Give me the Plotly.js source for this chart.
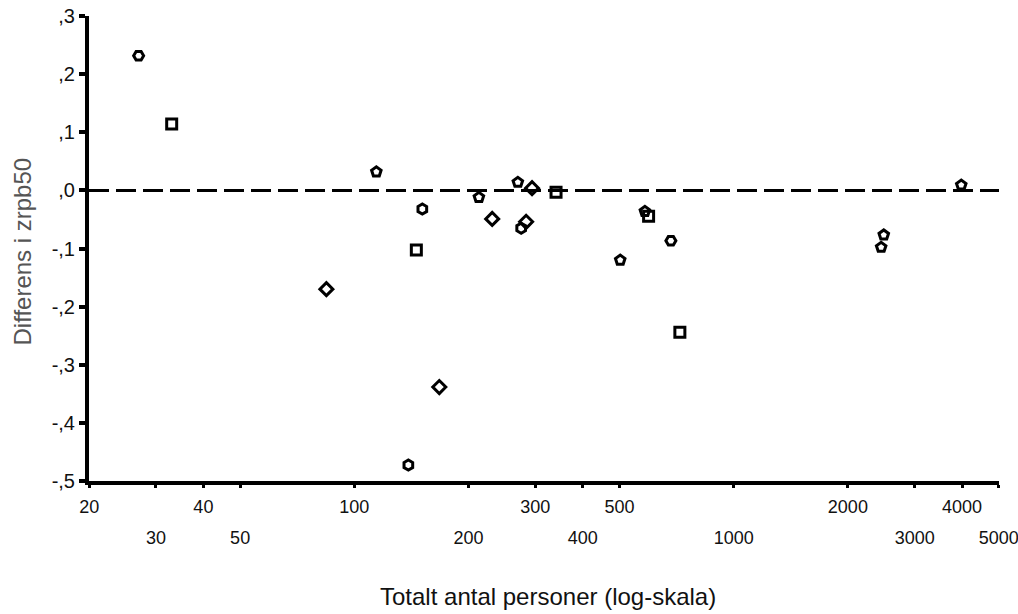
<!DOCTYPE html>
<html>
<head>
<meta charset="utf-8">
<script src="https://cdn.plot.ly/plotly-3.0.1.min.js"></script>
<style>
  html, body { margin: 0; padding: 0; background: #fff; }
  #chart { width: 1018px; height: 614px; }
</style>
</head>
<body>
<div id="chart"></div>
<script>
// Data
var totalPersons = [27.0, 33.0, 84.4, 114.3, 138.8, 145.7, 151.1, 167.5, 213, 230.9, 269.8, 294.1, 275.3, 283.7, 340.2, 583.4, 596.7, 683.1, 502.3, 721.4, 3981, 2487, 2448];
var diffZrpb50   = [0.232, 0.1145, -0.170, 0.032, -0.473, -0.1026, -0.032, -0.3386, -0.012, -0.049, 0.014, 0.004, -0.065, -0.054, -0.003, -0.036, -0.0445, -0.0866, -0.120, -0.2444, 0.0094, -0.0767, -0.0979];
var markerSymbols = ['hexagon2-open', 'square-open', 'diamond-open', 'pentagon-open', 'hexagon-open', 'square-open', 'hexagon-open', 'diamond-open', 'pentagon-open', 'diamond-open', 'pentagon-open', 'diamond-open', 'hexagon-open', 'diamond-open', 'square-open', 'pentagon-open', 'square-open', 'hexagon2-open', 'pentagon-open', 'square-open', 'pentagon-open', 'pentagon-open', 'pentagon-open'];

var xTickRow1 = [20, 40, 100, 300, 500, 2000, 4000];
var xTickRow2 = [30, 50, 200, 400, 1000, 3000, 5000];
var yTickVals = [-0.5, -0.4, -0.3, -0.2, -0.1, 0, 0.1, 0.2, 0.3];
var yTickText = ['-,5', '-,4', '-,3', '-,2', '-,1', ',0', ',1', ',2', ',3'];
var referenceLine = [0];

var allXTicks = xTickRow1.concat(xTickRow2).sort(function (a, b) { return a - b; });
var row1Text = allXTicks.map(function (v) { return xTickRow1.indexOf(v) >= 0 ? String(v) : ''; });

var FONT = '"Liberation Sans", Arial, sans-serif';

var traces = [
  {
    type: 'scatter',
    mode: 'markers',
    x: totalPersons,
    y: diffZrpb50,
    xaxis: 'x',
    yaxis: 'y',
    marker: {
      symbol: markerSymbols,
      size: 10,
      color: '#000',
      line: { color: '#000', width: 3 }
    },
    hoverinfo: 'x+y',
    showlegend: false,
    cliponaxis: false
  },
  {
    type: 'scatter',
    mode: 'markers',
    x: [],
    y: [],
    xaxis: 'x2',
    yaxis: 'y',
    showlegend: false,
    hoverinfo: 'skip'
  }
];

var xRange = [Math.log10(20) - 0.0005, Math.log10(5000) + 0.0005];

var layout = {
  width: 1018,
  height: 614,
  paper_bgcolor: '#fff',
  plot_bgcolor: '#fff',
  margin: { l: 89, r: 19, t: 16, b: 133 },
  font: { family: FONT, size: 18, color: '#111' },
  xaxis: {
    type: 'log',
    range: xRange,
    tickmode: 'array',
    tickvals: allXTicks,
    ticktext: row1Text,
    ticks: 'outside',
    ticklen: 3,
    tickwidth: 3,
    tickcolor: '#000',
    ticklabelstandoff: 3,
    ticklabeloverflow: 'allow',
    showline: true,
    linewidth: 4,
    linecolor: '#000',
    showgrid: false,
    zeroline: false,
    tickfont: { family: FONT, size: 18, color: '#111' },
    fixedrange: true
  },
  xaxis2: {
    type: 'log',
    range: xRange,
    overlaying: 'x',
    anchor: 'y',
    side: 'bottom',
    tickmode: 'array',
    tickvals: xTickRow2,
    ticktext: xTickRow2.map(String),
    ticks: '',
    ticklabelstandoff: 44,
    ticklabeloverflow: 'allow',
    showline: false,
    showgrid: false,
    zeroline: false,
    tickfont: { family: FONT, size: 18, color: '#111' },
    fixedrange: true
  },
  yaxis: {
    range: [-0.5005, 0.3005],
    tickmode: 'array',
    tickvals: yTickVals,
    ticktext: yTickText,
    ticks: 'outside',
    ticklen: 6,
    tickwidth: 4,
    tickcolor: '#000',
    showline: true,
    linewidth: 4,
    linecolor: '#000',
    showgrid: false,
    zeroline: false,
    tickfont: { family: FONT, size: 20, color: '#111' },
    fixedrange: true
  },
  shapes: [
    {
      type: 'line',
      xref: 'paper', x0: 0, x1: 1,
      yref: 'y', y0: referenceLine[0], y1: referenceLine[0],
      line: { color: '#000', width: 3, dash: '20px,7px' },
      layer: 'below'
    }
  ],
  annotations: [
    {
      text: 'Totalt antal personer (log-skala)',
      xref: 'paper', yref: 'paper',
      x: 0.5, y: 0,
      xanchor: 'center', yanchor: 'middle',
      yshift: -115,
      xshift: 4,
      showarrow: false,
      font: { family: FONT, size: 24, color: '#111' }
    },
    {
      text: 'Differens i zrpb50',
      xref: 'paper', yref: 'paper',
      x: 0, y: 0.5,
      xanchor: 'center', yanchor: 'middle',
      xshift: -67,
      yshift: -3,
      textangle: -90,
      showarrow: false,
      font: { family: FONT, size: 24, color: '#555' }
    }
  ]
};

Plotly.newPlot('chart', traces, layout, { displayModeBar: false, staticPlot: true });
</script>
</body>
</html>
